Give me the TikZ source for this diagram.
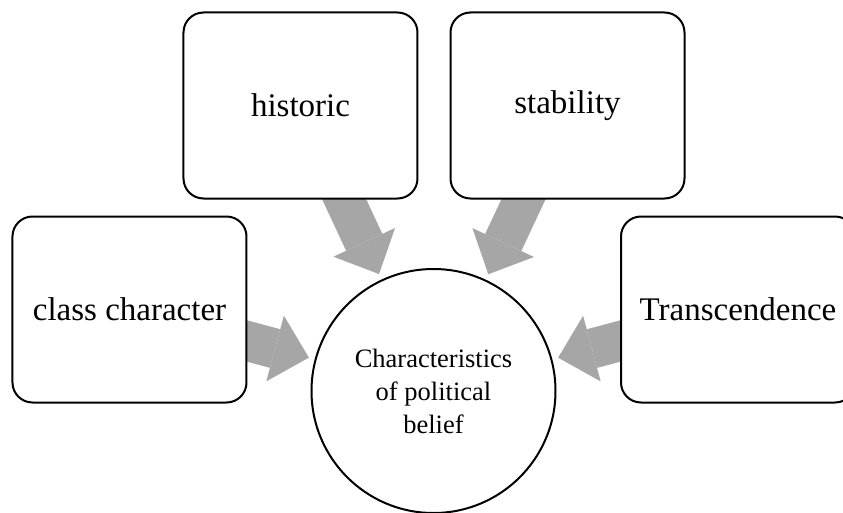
\documentclass[tikz,border=0pt]{standalone}
\usepackage{fontspec}
\setmainfont{Liberation Serif}
\usetikzlibrary{arrows.meta,positioning,backgrounds}
\colorlet{fl}{black!35}
\tikzset{
  box/.style  = { draw, line width=2pt, fill=white, rounded corners=20pt,
    minimum width=234pt, minimum height=186pt, inner sep=0pt,
    font=\fontsize{33}{40}\selectfont },
  core/.style = { draw, circle, line width=2pt, fill=white, minimum size=244pt,
    inner sep=0pt, align=center, font=\fontsize{26.5}{33}\selectfont },
  flow/.style = { draw=fl, line width=40pt, shorten >=6pt,
    -{Triangle[length=35pt,width=68pt,line width=0pt]} }
}
\begin{document}
\begin{tikzpicture}[x=1pt,y=1pt,on grid]
    % four features around the belief
    \useasboundingbox (-433.5,-121) rectangle (409.5,391);
    \node[core] (core) at (0,0) {Characteristics\\of political\\belief};
    \node[box, above left=285.5pt and 133pt of core] (hist) {historic};
    \node[box, above right=285.5pt and 134pt of core] (stab) {stability};
    \node[box, above left=81.5pt and 304pt of core] (cls) {class character};
    \node[box, above right=81.5pt and 304.5pt of core] (trans) {Transcendence};

    \begin{scope}[on background layer]
    \draw[flow] (hist.center) -- (core);
    \draw[flow] (stab.center) -- (core);
    \draw[flow] (cls.center) -- (core);
    \draw[flow] (trans.center) -- (core);
    \end{scope}
  \end{tikzpicture}
\end{document}
